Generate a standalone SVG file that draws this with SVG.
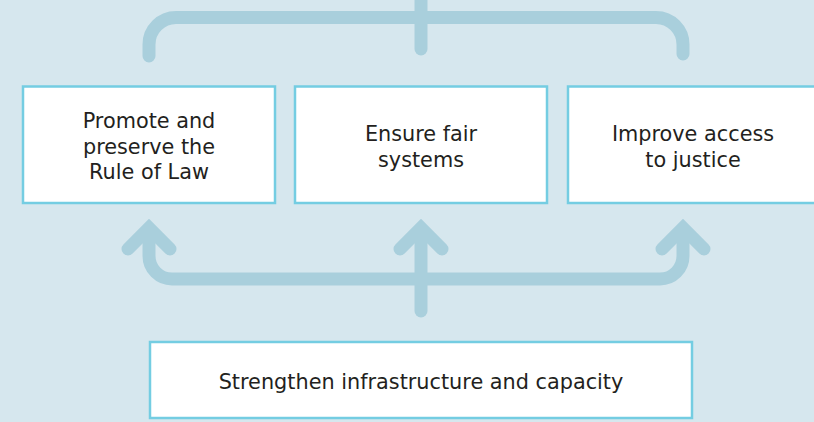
<svg xmlns="http://www.w3.org/2000/svg" width="814" height="422" viewBox="0 0 814 422">
<style>
.bg{fill:#d6e7ee}
.box{fill:#ffffff;stroke:#74cde2;stroke-width:2.5}
.ln{fill:none;stroke:#a9cfdc;stroke-width:13;stroke-linecap:round;stroke-linejoin:round}
.hd{fill:none;stroke:#a9cfdc;stroke-width:13;stroke-linecap:round;stroke-linejoin:miter;stroke-miterlimit:4}
.t{font-family:"DejaVu Sans",sans-serif;font-size:20.8px;fill:#231f20;text-anchor:middle}
</style>
<rect class="bg" x="0" y="0" width="814" height="422"/>
<g id="connectors">
<path class="ln" d="M149,56 V44.5 A27,27 0 0 1 176,17.5 H656 A27,27 0 0 1 683,44.5 V54"/>
<path class="ln" d="M421,-10 V49"/>
<path class="ln" d="M149,230 V256 A23,23 0 0 0 172,279 H660 A23,23 0 0 0 683,256 V230"/>
<path class="ln" d="M421,311 V230"/>
<path class="hd" d="M128,249 L149,228 L170,249"/>
<path class="hd" d="M400,249 L421,228 L442,249"/>
<path class="hd" d="M662,249 L683,228 L704,249"/>
</g>
<g id="node-rule-of-law">
<rect class="box" x="23" y="86.5" width="252" height="116.5"/>
<text class="t" x="149" y="128">Promote and</text>
<text class="t" x="149" y="153.5">preserve the</text>
<text class="t" x="149" y="179">Rule of Law</text>
</g>
<g id="node-fair-systems">
<rect class="box" x="295" y="86.5" width="252" height="116.5"/>
<text class="t" x="421" y="141">Ensure fair</text>
<text class="t" x="421" y="166.5">systems</text>
</g>
<g id="node-access-justice">
<rect class="box" x="568" y="86.5" width="252" height="116.5"/>
<text class="t" x="693" y="141">Improve access</text>
<text class="t" x="693" y="166.5">to justice</text>
</g>
<g id="node-infrastructure">
<rect class="box" x="150" y="342" width="542" height="76"/>
<text class="t" x="421" y="388.5">Strengthen infrastructure and capacity</text>
</g>
</svg>
